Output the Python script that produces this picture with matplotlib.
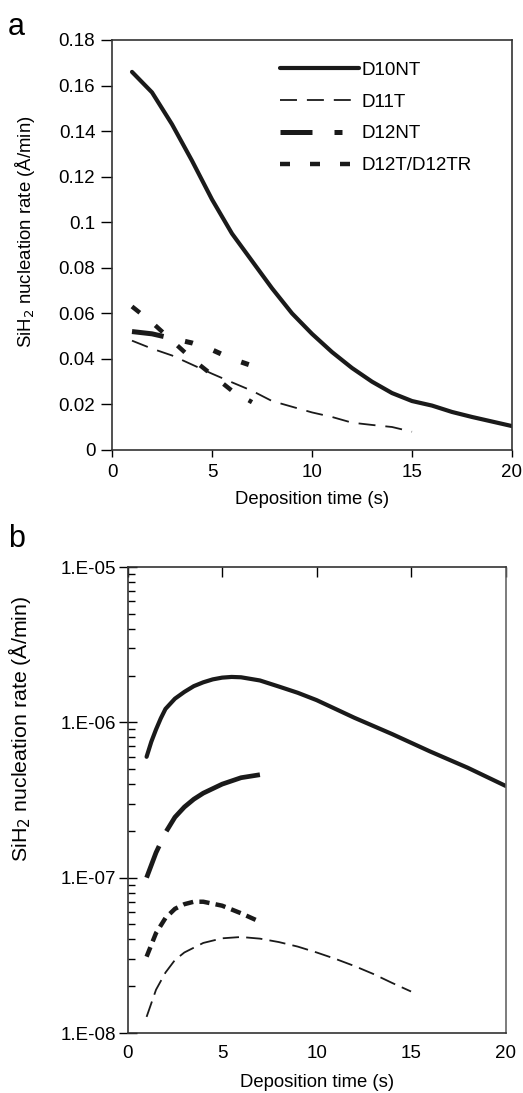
import matplotlib
matplotlib.use('Agg')
from matplotlib import pyplot as plt
from matplotlib.ticker import FixedLocator, LogLocator, NullFormatter
import numpy as np

plt.rcParams['font.family'] = ['Liberation Sans', 'DejaVu Sans']

# panel a: nucleation rate, linear scale
a_x10 = [1, 2, 3, 4, 5, 6, 7, 8, 9, 10, 11, 12, 13, 14, 15, 16, 17, 18, 19, 20]
a_d10nt = [0.166, 0.157, 0.143, 0.127, 0.110, 0.095, 0.083, 0.071, 0.060, 0.051,
           0.043, 0.036, 0.030, 0.025, 0.0215, 0.0195, 0.0167, 0.0145, 0.0125, 0.0105]
a_x11 = [1, 2, 3, 4, 5, 6, 7, 8, 9, 10, 11, 12, 13, 14, 15]
a_d11t = [0.048, 0.0445, 0.0415, 0.0375, 0.0335, 0.0297, 0.026, 0.0215, 0.019, 0.0165,
          0.0145, 0.012, 0.011, 0.0101, 0.008]
a_x12 = [1, 2, 3, 4, 5, 6, 7]
a_d12nt = [0.052, 0.051, 0.049, 0.047, 0.044, 0.040, 0.037]
a_d12t = [0.063, 0.056, 0.048, 0.040, 0.033, 0.026, 0.021]

# panel b: nucleation rate, log scale
b_x10 = [1, 1.25, 1.5, 1.75, 2, 2.5, 3, 3.5, 4, 4.5, 5, 5.5, 6, 7, 8, 9, 10, 12, 14, 16, 18, 20]
b_d10nt = [6.0e-7, 7.5e-7, 9.0e-7, 1.06e-6, 1.22e-6, 1.42e-6, 1.57e-6, 1.71e-6, 1.81e-6,
           1.89e-6, 1.94e-6, 1.96e-6, 1.95e-6, 1.86e-6, 1.70e-6, 1.55e-6, 1.39e-6,
           1.07e-6, 0.84e-6, 0.65e-6, 0.51e-6, 0.39e-6]
b_x11 = [1, 1.5, 2, 2.5, 3, 4, 5, 6, 7, 8, 9, 10, 11, 12, 13, 14, 15]
b_d11t = [1.27e-8, 1.9e-8, 2.45e-8, 2.95e-8, 3.3e-8, 3.8e-8, 4.07e-8, 4.15e-8, 4.05e-8,
          3.85e-8, 3.6e-8, 3.3e-8, 3.0e-8, 2.7e-8, 2.4e-8, 2.1e-8, 1.85e-8]
b_x12 = [1, 1.5, 2, 2.5, 3, 3.5, 4, 5, 6, 7]
b_d12nt = [1.0e-7, 1.45e-7, 1.95e-7, 2.45e-7, 2.85e-7, 3.2e-7, 3.5e-7, 4.0e-7, 4.4e-7, 4.6e-7]
b_d12t = [3.1e-8, 4.4e-8, 5.5e-8, 6.3e-8, 6.75e-8, 7.0e-8, 7.0e-8, 6.6e-8, 5.9e-8, 5.2e-8]

labels = ['D10NT', 'D11T', 'D12NT', 'D12T/D12TR']
b_yticks = [1e-8, 1e-7, 1e-6, 1e-5]
b_yticklabels = ['1.E-08', '1.E-07', '1.E-06', '1.E-05']

ylab = 'SiH$_2$ nucleation rate (Å/min)'
xlab = 'Deposition time (s)'
k = '#1a1a1a'
fs_tick = 13.5
fs_lab = 13.3

fig = plt.figure(figsize=(5.23, 10.93), dpi=100)
ax1 = fig.add_axes([112/523, 1 - 450/1093, 400/523, 410/1093])
ax2 = fig.add_axes([127.7/523, 1 - 1033/1093, 377.8/523, 466/1093])

# --- panel a
ax1.plot(a_x10, a_d10nt, color=k, lw=3.0, solid_capstyle='round', label=labels[0])
ax1.plot(a_x11, a_d11t, color=k, lw=1.3, linestyle=(0, (9.4, 5.5)), label=labels[1])
ax1.plot(a_x12, a_d12nt, color=k, lw=3.6, dash_capstyle='butt',
         linestyle=(0, (6.4, 4.4, 1.6, 4.4, 1.6, 4.4, 1.6, 20)), label=labels[2])
ax1.plot(a_x12, a_d12t, color=k, lw=3.2, dash_capstyle='butt',
         linestyle=(0, (2.25, 4.5)), label=labels[3])

ax1.set_xlim(0, 20)
ax1.set_ylim(0, 0.18)
ax1.set_xticks([0, 5, 10, 15, 20])
ax1.set_yticks(np.arange(0, 0.181, 0.02))
ax1.set_yticklabels(['0', '0.02', '0.04', '0.06', '0.08', '0.1', '0.12', '0.14', '0.16', '0.18'])
ax1.tick_params(axis='x', direction='out', length=5, width=1, pad=5, labelsize=fs_tick)
ax1.tick_params(axis='y', direction='out', length=8, width=1, pad=4, labelsize=fs_tick)
ax1.set_xlabel(xlab, fontsize=fs_lab, labelpad=7)
ax1.set_ylabel(ylab, fontsize=fs_lab)
ax1.yaxis.set_label_coords(-0.1875, 0.533)
ax1.legend(loc='upper left', bbox_to_anchor=(0.40, 0.965), frameon=False,
           fontsize=fs_tick, handlelength=4.25, handletextpad=0.1, labelspacing=0.78,
           borderaxespad=0)

# --- panel b
ax2.plot(b_x10, b_d10nt, color=k, lw=3.0, solid_capstyle='round')
ax2.plot(b_x11, b_d11t, color=k, lw=1.3, linestyle=(0, (9, 4)))
ax2.plot(b_x12, b_d12nt, color=k, lw=3.4, dash_capstyle='butt',
         linestyle=(0, (7.2, 3.5, 60, 5)))
ax2.plot(b_x12, b_d12t, color=k, lw=3.2, dash_capstyle='butt',
         linestyle=(0, (2.3, 1.4)))

ax2.set_yscale('log')
ax2.set_xlim(0, 20)
ax2.set_ylim(1e-8, 1e-5)
ax2.set_xticks([0, 5, 10, 15, 20])
ax2.yaxis.set_major_locator(FixedLocator(b_yticks))
ax2.set_yticklabels(b_yticklabels)
ax2.yaxis.set_minor_locator(LogLocator(base=10, subs=np.arange(2, 10)))
ax2.yaxis.set_minor_formatter(NullFormatter())
ax2.tick_params(axis='x', bottom=False, top=True, labelbottom=True, labeltop=False,
                direction='in', length=7, width=1, pad=9, labelsize=fs_tick)
ax2.tick_params(axis='y', which='major', direction='inout', length=13, width=1,
                pad=2, labelsize=fs_tick)
ax2.tick_params(axis='y', which='minor', direction='in', length=5, width=1)
ax2.set_xlabel(xlab, fontsize=fs_lab, labelpad=8)
ax2.set_ylabel(ylab, fontsize=fs_lab)
ax2.yaxis.set_label_coords(-0.2507, 0.653)

for ax in (ax1, ax2):
    for s in ax.spines.values():
        s.set_color('#333333')
        s.set_linewidth(1.2)
ax2.spines['right'].set_color('#666666')

# y labels in the reference run about 233 px (a) and 267 px (b) long; size them to that
r = fig.canvas.get_renderer()
for ax, target in ((ax1, 233.0), (ax2, 267.0)):
    lab = ax.yaxis.label
    h = lab.get_window_extent(r).height
    lab.set_fontsize(lab.get_fontsize() * target / h)

fig.text(8/523, 1 - 12/1093, 'a', fontsize=22, va='top', ha='left')
fig.text(8/523, 1 - 524/1093, 'b', fontsize=22, va='top', ha='left')

fig.savefig('out.png', dpi=100)
